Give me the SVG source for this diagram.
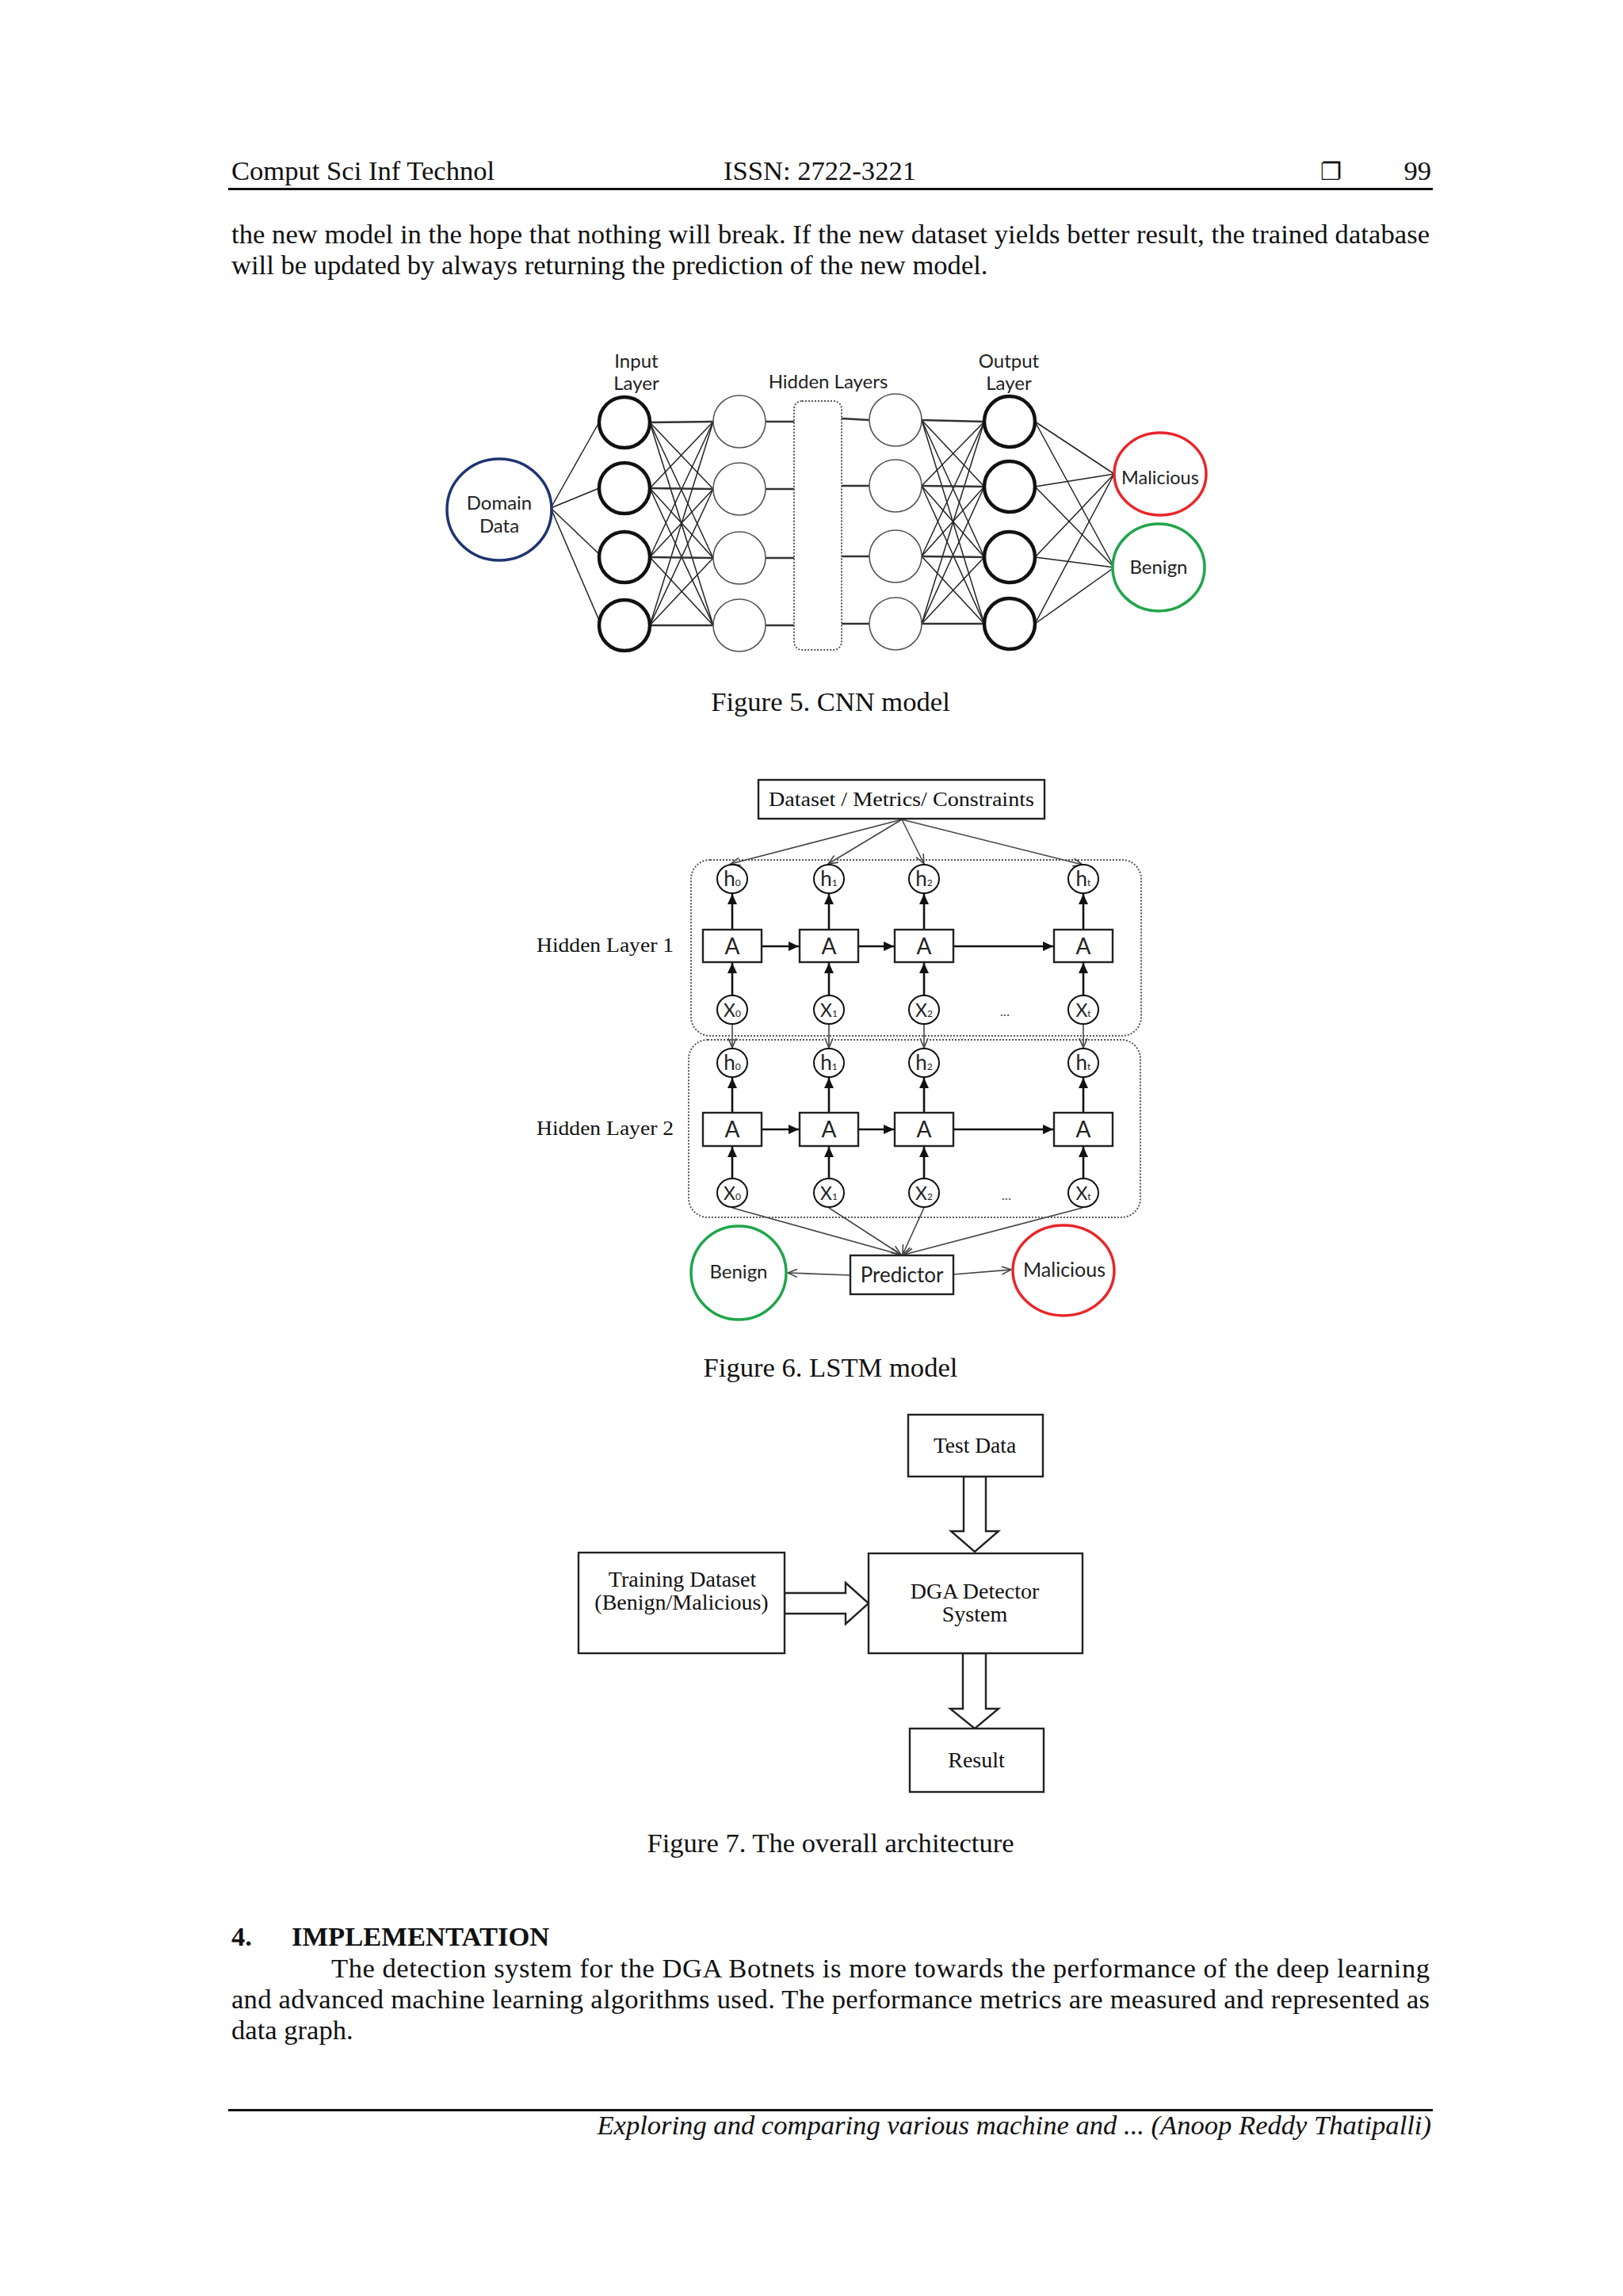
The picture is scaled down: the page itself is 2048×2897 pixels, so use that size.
<svg xmlns="http://www.w3.org/2000/svg" width="2048" height="2897" viewBox="0 0 2048 2897">
<style>
.serif{font-family:"Liberation Serif","Times New Roman",serif;fill:#111}
.body{font-size:34.6px}
.sans{font-family:Lato,"Open Sans","DejaVu Sans",sans-serif;fill:#222}
.thin{stroke:#222;stroke-width:1.5;fill:none}
.hz{stroke:#333;stroke-width:2.6;fill:none}
.cin{fill:#fff;stroke:#111;stroke-width:4.5}
.chid{fill:#fff;stroke:#555;stroke-width:1.6}
.dot{fill:none;stroke:#555;stroke-width:2;stroke-dasharray:2 2}
.box{fill:#fff;stroke:#222;stroke-width:2.4}
.node{fill:#fff;stroke:#111;stroke-width:2}
.thick{stroke:#111;stroke-width:2.6;fill:none}
.grey{stroke:#444;stroke-width:1.6;fill:none}
.blk{fill:#fff;stroke:#222;stroke-width:2.4;stroke-linejoin:miter}
</style>
<defs>
<marker id="fill" markerUnits="userSpaceOnUse" markerWidth="14" markerHeight="12" refX="13" refY="6" orient="auto">
<path d="M0,0 L13,6 L0,12 z" fill="#111"/>
</marker>
<marker id="open" markerUnits="userSpaceOnUse" markerWidth="14" markerHeight="12" refX="12" refY="6" orient="auto">
<path d="M0,1 L12,6 L0,11" fill="none" stroke="#444" stroke-width="1.6"/>
</marker>
</defs>
<rect width="2048" height="2897" fill="#fff"/>

<g id="header">
<text class="serif body" x="292" y="227">Comput Sci Inf Technol</text>
<text class="serif body" x="913" y="227">ISSN: 2722-3221</text>
<text x="1666" y="227" font-family="DejaVu Sans,sans-serif" font-size="30" fill="#111">❐</text>
<text class="serif body" x="1806" y="227" text-anchor="end">99</text>
<rect x="288" y="237" width="1520" height="3" fill="#111"/>
</g>

<g id="intro-text">
<text class="serif body" x="292" y="307" textLength="1512" lengthAdjust="spacing">the new model in the hope that nothing will break. If the new dataset yields better result, the trained database</text>
<text class="serif body" x="292" y="346">will be updated by always returning the prediction of the new model.</text>
</g>

<!-- Figure 5 CNN -->
<g id="fig5-connectors">
<g class="thin">
<line x1="695" y1="641" x2="757" y2="531"/>
<line x1="695" y1="641" x2="756" y2="616"/>
<line x1="695" y1="641" x2="757" y2="700"/>
<line x1="695" y1="641" x2="757" y2="785"/>
<line x1="820" y1="533" x2="900" y2="617"/><line x1="820" y1="533" x2="900" y2="704"/><line x1="820" y1="533" x2="900" y2="789"/>
<line x1="820" y1="616" x2="900" y2="532"/><line x1="820" y1="616" x2="900" y2="704"/><line x1="820" y1="616" x2="900" y2="789"/>
<line x1="820" y1="703" x2="900" y2="532"/><line x1="820" y1="703" x2="900" y2="617"/><line x1="820" y1="703" x2="900" y2="789"/>
<line x1="820" y1="789" x2="900" y2="532"/><line x1="820" y1="789" x2="900" y2="617"/><line x1="820" y1="789" x2="900" y2="704"/>
<line x1="1163" y1="530" x2="1242" y2="614"/><line x1="1163" y1="530" x2="1242" y2="703"/><line x1="1163" y1="530" x2="1242" y2="787"/>
<line x1="1163" y1="613" x2="1242" y2="532"/><line x1="1163" y1="613" x2="1242" y2="703"/><line x1="1163" y1="613" x2="1242" y2="787"/>
<line x1="1163" y1="702" x2="1242" y2="532"/><line x1="1163" y1="702" x2="1242" y2="614"/><line x1="1163" y1="702" x2="1242" y2="787"/>
<line x1="1163" y1="787" x2="1242" y2="532"/><line x1="1163" y1="787" x2="1242" y2="614"/><line x1="1163" y1="787" x2="1242" y2="703"/>
<line x1="1306" y1="532" x2="1406" y2="598"/><line x1="1306" y1="532" x2="1406" y2="716"/>
<line x1="1306" y1="614" x2="1406" y2="598"/><line x1="1306" y1="614" x2="1406" y2="716"/>
<line x1="1306" y1="703" x2="1406" y2="598"/><line x1="1306" y1="703" x2="1406" y2="716"/>
<line x1="1306" y1="787" x2="1406" y2="598"/><line x1="1306" y1="787" x2="1406" y2="716"/>
</g>
<g class="hz">
<line x1="820" y1="533" x2="900" y2="532"/><line x1="820" y1="616" x2="900" y2="617"/>
<line x1="820" y1="703" x2="900" y2="704"/><line x1="820" y1="789" x2="900" y2="789"/>
<line x1="966" y1="532" x2="1002" y2="532"/><line x1="966" y1="617" x2="1002" y2="617"/>
<line x1="966" y1="704" x2="1002" y2="704"/><line x1="966" y1="789" x2="1002" y2="789"/>
<line x1="1062" y1="528" x2="1097" y2="530"/><line x1="1062" y1="613" x2="1097" y2="613"/>
<line x1="1062" y1="702" x2="1097" y2="702"/><line x1="1062" y1="787" x2="1097" y2="787"/>
<line x1="1163" y1="530" x2="1242" y2="532"/><line x1="1163" y1="613" x2="1242" y2="614"/>
<line x1="1163" y1="702" x2="1242" y2="703"/><line x1="1163" y1="787" x2="1242" y2="787"/>
</g>
</g>

<g id="fig5-labels">
<text class="sans" font-size="24" x="803" y="464" text-anchor="middle">Input</text>
<text class="sans" font-size="24" x="803" y="492" text-anchor="middle">Layer</text>
<text class="sans" font-size="24" x="1045" y="490" text-anchor="middle">Hidden Layers</text>
<text class="sans" font-size="24" x="1273" y="464" text-anchor="middle">Output</text>
<text class="sans" font-size="24" x="1273" y="492" text-anchor="middle">Layer</text>
</g>

<g id="domain-data">
<ellipse cx="630" cy="643" rx="66" ry="64" fill="#fff" stroke="#1f3470" stroke-width="3.5"/>
<text class="sans" font-size="24" x="630" y="643" text-anchor="middle">Domain</text>
<text class="sans" font-size="24" x="630" y="672" text-anchor="middle">Data</text>
</g>
<g id="input-layer">
<circle class="cin" cx="788" cy="533" r="32"/>
<circle class="cin" cx="788" cy="616" r="32"/>
<circle class="cin" cx="788" cy="703" r="32"/>
<circle class="cin" cx="788" cy="789" r="32"/>
</g>
<g id="hidden-layer-a">
<circle class="chid" cx="933" cy="532" r="33"/>
<circle class="chid" cx="933" cy="617" r="33"/>
<circle class="chid" cx="933" cy="704" r="33"/>
<circle class="chid" cx="933" cy="789" r="33"/>
</g>
<g id="hidden-block">
<rect class="dot" x="1002" y="506" width="60" height="314" rx="10"/>
</g>
<g id="hidden-layer-b">
<circle class="chid" cx="1130" cy="530" r="33"/>
<circle class="chid" cx="1130" cy="613" r="33"/>
<circle class="chid" cx="1130" cy="702" r="33"/>
<circle class="chid" cx="1130" cy="787" r="33"/>
</g>
<g id="output-layer">
<circle class="cin" cx="1274" cy="532" r="32"/>
<circle class="cin" cx="1274" cy="614" r="32"/>
<circle class="cin" cx="1274" cy="703" r="32"/>
<circle class="cin" cx="1274" cy="787" r="32"/>
</g>
<g id="cnn-malicious">
<ellipse cx="1464" cy="598" rx="58" ry="52" fill="#fff" stroke="#e8262b" stroke-width="3.5"/>
<text class="sans" font-size="23.5" x="1464" y="611" text-anchor="middle">Malicious</text>
</g>
<g id="cnn-benign">
<ellipse cx="1462" cy="716" rx="58" ry="55" fill="#fff" stroke="#1fa64a" stroke-width="3.5"/>
<text class="sans" font-size="24" x="1462" y="724" text-anchor="middle">Benign</text>
</g>
<text class="serif body" x="1048" y="897" text-anchor="middle">Figure 5. CNN model</text>

<!-- Figure 6 LSTM -->
<g id="fig6-connectors">
<g class="grey">
<line x1="1138" y1="1034" x2="922" y2="1090" marker-end="url(#open)"/>
<line x1="1138" y1="1034" x2="1045" y2="1090" marker-end="url(#open)"/>
<line x1="1138" y1="1034" x2="1166" y2="1090" marker-end="url(#open)"/>
<line x1="1138" y1="1034" x2="1366" y2="1091" marker-end="url(#open)"/>
<line x1="924" y1="1293" x2="924" y2="1322" marker-end="url(#open)"/>
<line x1="1046" y1="1293" x2="1046" y2="1322" marker-end="url(#open)"/>
<line x1="1166" y1="1293" x2="1166" y2="1322" marker-end="url(#open)"/>
<line x1="1367" y1="1293" x2="1367" y2="1322" marker-end="url(#open)"/>
<line x1="924" y1="1524" x2="1136" y2="1583" marker-end="url(#open)"/>
<line x1="1046" y1="1524" x2="1137" y2="1583" marker-end="url(#open)"/>
<line x1="1166" y1="1524" x2="1139" y2="1583" marker-end="url(#open)"/>
<line x1="1366" y1="1524" x2="1141" y2="1583" marker-end="url(#open)"/>
<line x1="1073" y1="1609" x2="994" y2="1606" marker-end="url(#open)"/>
<line x1="1203" y1="1608" x2="1276" y2="1602" marker-end="url(#open)"/>
</g>
<g class="thick">
<line x1="924" y1="1173" x2="924" y2="1128" marker-end="url(#fill)"/>
<line x1="1046" y1="1173" x2="1046" y2="1128" marker-end="url(#fill)"/>
<line x1="1166" y1="1173" x2="1166" y2="1128" marker-end="url(#fill)"/>
<line x1="1367" y1="1173" x2="1367" y2="1128" marker-end="url(#fill)"/>
<line x1="924" y1="1256" x2="924" y2="1215" marker-end="url(#fill)"/>
<line x1="1046" y1="1256" x2="1046" y2="1215" marker-end="url(#fill)"/>
<line x1="1166" y1="1256" x2="1166" y2="1215" marker-end="url(#fill)"/>
<line x1="1367" y1="1256" x2="1367" y2="1215" marker-end="url(#fill)"/>
<line x1="961" y1="1194" x2="1008" y2="1194" marker-end="url(#fill)"/>
<line x1="1083" y1="1194" x2="1128" y2="1194" marker-end="url(#fill)"/>
<line x1="1203" y1="1194" x2="1329" y2="1194" marker-end="url(#fill)"/>
<line x1="924" y1="1404" x2="924" y2="1360" marker-end="url(#fill)"/>
<line x1="1046" y1="1404" x2="1046" y2="1360" marker-end="url(#fill)"/>
<line x1="1166" y1="1404" x2="1166" y2="1360" marker-end="url(#fill)"/>
<line x1="1367" y1="1404" x2="1367" y2="1360" marker-end="url(#fill)"/>
<line x1="924" y1="1487" x2="924" y2="1447" marker-end="url(#fill)"/>
<line x1="1046" y1="1487" x2="1046" y2="1447" marker-end="url(#fill)"/>
<line x1="1166" y1="1487" x2="1166" y2="1447" marker-end="url(#fill)"/>
<line x1="1367" y1="1487" x2="1367" y2="1447" marker-end="url(#fill)"/>
<line x1="961" y1="1425" x2="1008" y2="1425" marker-end="url(#fill)"/>
<line x1="1083" y1="1425" x2="1128" y2="1425" marker-end="url(#fill)"/>
<line x1="1203" y1="1425" x2="1329" y2="1425" marker-end="url(#fill)"/>
</g>
</g>

<g id="dataset-box">
<rect class="box" x="957" y="984" width="361" height="49"/>
<text class="serif" font-size="25" x="970" y="1017" textLength="335" lengthAdjust="spacingAndGlyphs" fill="#222">Dataset / Metrics/ Constraints</text>
</g>

<g id="hidden-layer-1">
<rect class="dot" x="872" y="1085" width="568" height="222" rx="24"/>
<text class="serif" font-size="26" x="677" y="1201" textLength="173" lengthAdjust="spacingAndGlyphs" fill="#333">Hidden Layer 1</text>
<g class="sans" font-size="26" text-anchor="middle">
<ellipse class="node" cx="924" cy="1109" rx="19" ry="18"/><text x="924" y="1118">h<tspan font-size="12">0</tspan></text>
<ellipse class="node" cx="1046" cy="1109" rx="19" ry="18"/><text x="1046" y="1118">h<tspan font-size="12">1</tspan></text>
<ellipse class="node" cx="1166" cy="1109" rx="19" ry="18"/><text x="1166" y="1118">h<tspan font-size="12">2</tspan></text>
<ellipse class="node" cx="1367" cy="1109" rx="19" ry="18"/><text x="1367" y="1118">h<tspan font-size="12">t</tspan></text>
<rect class="box" x="887" y="1173" width="74" height="41"/><text x="924" y="1204" font-size="28">A</text>
<rect class="box" x="1009" y="1173" width="74" height="41"/><text x="1046" y="1204" font-size="28">A</text>
<rect class="box" x="1129" y="1173" width="74" height="41"/><text x="1166" y="1204" font-size="28">A</text>
<rect class="box" x="1330" y="1173" width="74" height="41"/><text x="1367" y="1204" font-size="28">A</text>
<ellipse class="node" cx="924" cy="1274" rx="19" ry="18"/><text x="924" y="1283" font-size="23">X<tspan font-size="12">0</tspan></text>
<ellipse class="node" cx="1046" cy="1274" rx="19" ry="18"/><text x="1046" y="1283" font-size="23">X<tspan font-size="12">1</tspan></text>
<ellipse class="node" cx="1166" cy="1274" rx="19" ry="18"/><text x="1166" y="1283" font-size="23">X<tspan font-size="12">2</tspan></text>
<ellipse class="node" cx="1367" cy="1274" rx="19" ry="18"/><text x="1367" y="1283" font-size="23">X<tspan font-size="12">t</tspan></text>
<text x="1268" y="1282" font-size="18" fill="#555">...</text>
</g>
</g>

<g id="hidden-layer-2">
<rect class="dot" x="869" y="1312" width="570" height="224" rx="24"/>
<text class="serif" font-size="26" x="677" y="1432" textLength="173" lengthAdjust="spacingAndGlyphs" fill="#333">Hidden Layer 2</text>
<g class="sans" font-size="26" text-anchor="middle">
<ellipse class="node" cx="924" cy="1341" rx="19" ry="18"/><text x="924" y="1350">h<tspan font-size="12">0</tspan></text>
<ellipse class="node" cx="1046" cy="1341" rx="19" ry="18"/><text x="1046" y="1350">h<tspan font-size="12">1</tspan></text>
<ellipse class="node" cx="1166" cy="1341" rx="19" ry="18"/><text x="1166" y="1350">h<tspan font-size="12">2</tspan></text>
<ellipse class="node" cx="1367" cy="1341" rx="19" ry="18"/><text x="1367" y="1350">h<tspan font-size="12">t</tspan></text>
<rect class="box" x="887" y="1404" width="74" height="42"/><text x="924" y="1435" font-size="28">A</text>
<rect class="box" x="1009" y="1404" width="74" height="42"/><text x="1046" y="1435" font-size="28">A</text>
<rect class="box" x="1129" y="1404" width="74" height="42"/><text x="1166" y="1435" font-size="28">A</text>
<rect class="box" x="1330" y="1404" width="74" height="42"/><text x="1367" y="1435" font-size="28">A</text>
<ellipse class="node" cx="924" cy="1505" rx="19" ry="18"/><text x="924" y="1514" font-size="23">X<tspan font-size="12">0</tspan></text>
<ellipse class="node" cx="1046" cy="1505" rx="19" ry="18"/><text x="1046" y="1514" font-size="23">X<tspan font-size="12">1</tspan></text>
<ellipse class="node" cx="1166" cy="1505" rx="19" ry="18"/><text x="1166" y="1514" font-size="23">X<tspan font-size="12">2</tspan></text>
<ellipse class="node" cx="1367" cy="1505" rx="19" ry="18"/><text x="1367" y="1514" font-size="23">X<tspan font-size="12">t</tspan></text>
<text x="1270" y="1514" font-size="18" fill="#555">...</text>
</g>
</g>

<g id="predictor">
<rect class="box" x="1073" y="1584" width="130" height="49"/>
<text class="sans" font-size="26" x="1138" y="1618" text-anchor="middle">Predictor</text>
</g>
<g id="lstm-benign">
<ellipse cx="932" cy="1606" rx="60" ry="59" fill="#fff" stroke="#1fa64a" stroke-width="3.5"/>
<text class="sans" font-size="24" x="932" y="1613" text-anchor="middle">Benign</text>
</g>
<g id="lstm-malicious">
<ellipse cx="1342" cy="1603" rx="64" ry="57" fill="#fff" stroke="#e8262b" stroke-width="3.5"/>
<text class="sans" font-size="25" x="1343" y="1611" text-anchor="middle">Malicious</text>
</g>
<text class="serif body" x="1048" y="1737" text-anchor="middle">Figure 6. LSTM model</text>

<!-- Figure 7 -->
<g id="fig7-connectors">
<polygon class="blk" points="1216,1863 1244,1863 1244,1932 1260,1932 1230,1958 1200,1932 1216,1932"/>
<polygon class="blk" points="990,2010 1067,2010 1067,1997 1096,2023 1067,2049 1067,2036 990,2036"/>
<polygon class="blk" points="1215,2086 1244,2086 1244,2156 1260,2156 1230,2181 1199,2156 1215,2156"/>
</g>
<g id="test-data">
<rect class="box" x="1146" y="1785" width="170" height="78"/>
<text class="serif" font-size="27.5" x="1230" y="1833" text-anchor="middle">Test Data</text>
</g>
<g id="training-dataset">
<rect class="box" x="730" y="1959" width="260" height="127"/>
<text class="serif" font-size="28" x="861" y="2002" text-anchor="middle">Training Dataset</text>
<text class="serif" font-size="28" x="860" y="2031" text-anchor="middle">(Benign/Malicious)</text>
</g>
<g id="dga-detector">
<rect class="box" x="1096" y="1960" width="270" height="126"/>
<text class="serif" font-size="28" x="1230" y="2017" text-anchor="middle">DGA Detector</text>
<text class="serif" font-size="28" x="1230" y="2046" text-anchor="middle">System</text>
</g>
<g id="result">
<rect class="box" x="1148" y="2181" width="169" height="80"/>
<text class="serif" font-size="28" x="1232" y="2230" text-anchor="middle">Result</text>
</g>
<text class="serif body" x="1048" y="2337" text-anchor="middle">Figure 7. The overall architecture</text>

<g id="section">
<text class="serif body" x="292" y="2455" font-weight="bold">4.</text>
<text class="serif body" x="368" y="2455" font-weight="bold">IMPLEMENTATION</text>
<text class="serif body" x="418" y="2495" textLength="1386" lengthAdjust="spacing">The detection system for the DGA Botnets is more towards the performance of the deep learning</text>
<text class="serif body" x="292" y="2534" textLength="1512" lengthAdjust="spacing">and advanced machine learning algorithms used. The performance metrics are measured and represented as</text>
<text class="serif body" x="292" y="2573">data graph.</text>
</g>

<g id="footer">
<rect x="288" y="2661" width="1520" height="3" fill="#111"/>
<text class="serif body" x="1806" y="2693" text-anchor="end" font-style="italic">Exploring and comparing various machine and ... (Anoop Reddy Thatipalli)</text>
</g>
</svg>
